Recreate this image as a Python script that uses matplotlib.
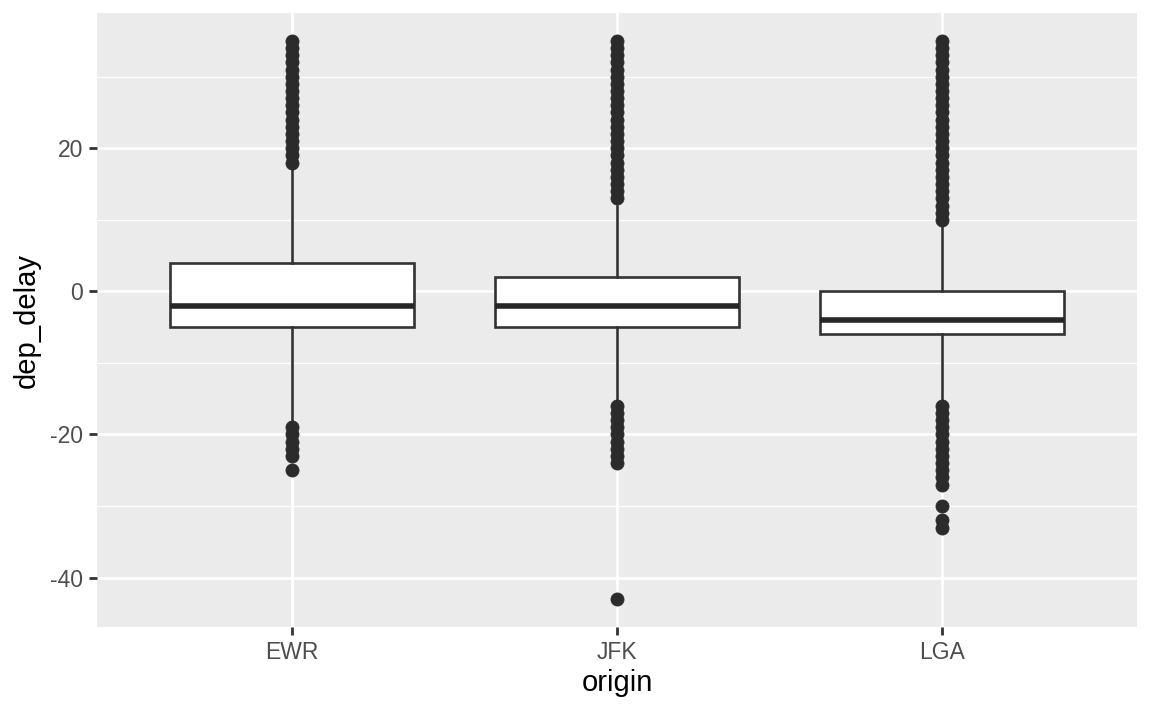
import numpy as np
import matplotlib.pyplot as plt
from matplotlib.ticker import MultipleLocator

plt.rcParams['font.family'] = ['Liberation Sans', 'DejaVu Sans']
plt.rcParams['axes.unicode_minus'] = False

origins = ['EWR', 'JFK', 'LGA']
q1 = [-5, -5, -6]
med = [-2, -2, -4]
q3 = [4, 2, 0]
whislo = [-18, -15, -15]
whishi = [17, 12, 9]
fliers = [
    [-25, -23, -22, -21, -20, -19] + list(range(18, 36)),
    [-43, -24, -23, -22, -21, -20, -19, -18, -17, -16] + list(range(13, 36)),
    [-33, -32, -30, -27, -26, -25, -24, -23, -22, -21, -20, -19, -18, -17, -16] + list(range(10, 36)),
]

stats = []
for i, name in enumerate(origins):
    stats.append(dict(label=name, q1=q1[i], med=med[i], q3=q3[i],
                      whislo=whislo[i], whishi=whishi[i], fliers=fliers[i]))

fig = plt.figure(figsize=(11.52, 7.11), dpi=100)
ax = fig.add_axes([97 / 1152, 84 / 711, 1040 / 1152, 614 / 711])
ax.set_facecolor('#EBEBEB')

line_c = '#333333'
ax.bxp(stats, positions=[1, 2, 3], widths=0.75, patch_artist=True,
       boxprops=dict(facecolor='white', edgecolor=line_c, linewidth=1.9),
       whiskerprops=dict(color=line_c, linewidth=1.9),
       capprops=dict(linewidth=0),
       medianprops=dict(color='#262626', linewidth=4.0, solid_capstyle='butt'),
       flierprops=dict(marker='o', markersize=9.4, markerfacecolor='#2b2b2b',
                       markeredgecolor='#2b2b2b', markeredgewidth=0.6),
       zorder=3)

ax.set_xlim(0.4, 3.6)
ax.set_ylim(-46.9, 38.9)
ax.set_xticks([1, 2, 3])
ax.set_xticklabels(origins)
ax.yaxis.set_major_locator(MultipleLocator(20))
ax.yaxis.set_minor_locator(MultipleLocator(10))

ax.grid(True, which='major', color='white', linewidth=2.0, zorder=0)
ax.grid(True, which='minor', axis='y', color='white', linewidth=1.0, zorder=0)
ax.set_axisbelow(True)
for s in ax.spines.values():
    s.set_visible(False)

ax.tick_params(axis='both', which='major', length=6, width=2.0, color='#333333',
               labelcolor='#4D4D4D', labelsize=16.5, pad=4)
ax.tick_params(axis='y', which='minor', length=0)

ax.set_xlabel('origin', fontsize=21, color='black', labelpad=4)
ax.set_ylabel('dep_delay', fontsize=21, color='black', labelpad=7)

fig.savefig('out.png', dpi=100, facecolor='white')
